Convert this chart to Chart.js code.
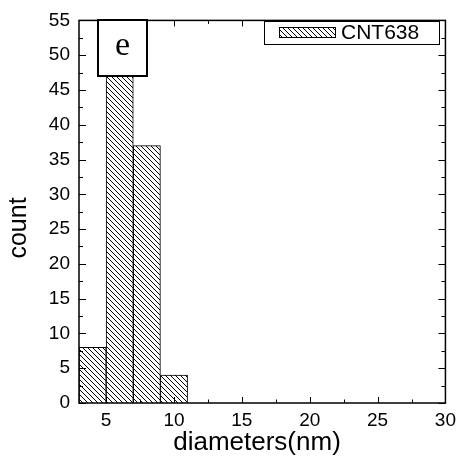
<!DOCTYPE html>
<html>
<head>
<meta charset="utf-8">
<script src="https://cdn.jsdelivr.net/npm/chart.js@4.4.0/dist/chart.umd.min.js"></script>
<style>
  html, body { margin: 0; padding: 0; background: #fff; }
  #wrap { width: 462px; height: 463px; position: relative; }
</style>
</head>
<body>
<div id="wrap"><canvas id="c" width="462" height="463"></canvas></div>
<script>
// ---- data ----
const binCenters = [4, 6, 8, 10];
const counts = [8, 47, 37, 4];
const seriesLabel = 'CNT638';
const xTickValues = [5, 10, 15, 20, 25, 30];
const yTickValues = [0, 5, 10, 15, 20, 25, 30, 35, 40, 45, 50, 55];
const xMinorValues = [7.5, 12.5, 17.5, 22.5, 27.5];
const yMinorValues = [2.5, 7.5, 12.5, 17.5, 22.5, 27.5, 32.5, 37.5, 42.5, 47.5, 52.5];
const panelLabel = 'e';
const xTitle = 'diameters(nm)';
const yTitle = 'count';

// ---- hatch pattern ----
function makeHatch() {
  const s = 5;
  const pc = document.createElement('canvas');
  pc.width = s; pc.height = s;
  const p = pc.getContext('2d');
  p.fillStyle = '#fff';
  p.fillRect(0, 0, s, s);
  p.strokeStyle = '#000';
  p.lineWidth = 1;
  p.beginPath();
  p.moveTo(0, 0); p.lineTo(s, s);
  p.moveTo(-1, s - 1); p.lineTo(1, s + 1);
  p.moveTo(s - 1, -1); p.lineTo(s + 1, 1);
  p.stroke();
  return document.getElementById('c').getContext('2d').createPattern(pc, 'repeat');
}
const hatch = makeHatch();

const FONT = "'Liberation Sans', Arial, sans-serif";

const decor = {
  id: 'decor',
  afterDatasetsDraw(chart) {
    const ctx = chart.ctx;
    const a = chart.chartArea;
    const xs = chart.scales.x, ys = chart.scales.y;
    ctx.save();
    // frame
    ctx.strokeStyle = '#000';
    ctx.lineWidth = 1.5;
    ctx.strokeRect(a.left, a.top, a.right - a.left, a.bottom - a.top);
    // ticks (inward, all four sides)
    ctx.lineWidth = 1;
    ctx.beginPath();
    const tickX = (v, len) => {
      const px = Math.round(xs.getPixelForValue(v)) + 0.5;
      ctx.moveTo(px, a.bottom); ctx.lineTo(px, a.bottom - len);
      ctx.moveTo(px, a.top); ctx.lineTo(px, a.top + len);
    };
    const tickY = (v, len) => {
      const py = Math.round(ys.getPixelForValue(v)) + 0.5;
      ctx.moveTo(a.left, py); ctx.lineTo(a.left + len, py);
      ctx.moveTo(a.right, py); ctx.lineTo(a.right - len, py);
    };
    xTickValues.forEach(v => tickX(v, 6));
    xMinorValues.forEach(v => tickX(v, 3.5));
    yTickValues.forEach(v => tickY(v, 7));
    yMinorValues.forEach(v => tickY(v, 4));
    ctx.stroke();

    // panel label box
    const bx = 98, by = 20, bw = 49, bh = 56;
    ctx.fillStyle = '#fff';
    ctx.fillRect(bx, by, bw, bh);
    ctx.lineWidth = 2;
    ctx.strokeRect(bx, by, bw, bh);
    ctx.fillStyle = '#000';
    ctx.font = "34px 'Liberation Serif', 'Times New Roman', serif";
    ctx.textAlign = 'center';
    ctx.textBaseline = 'middle';
    ctx.fillText(panelLabel, bx + bw / 2, by + bh / 2 - 2);

    // legend
    const lx = 264, ly = 21, lw = 175, lh = 23;
    ctx.fillStyle = '#fff';
    ctx.fillRect(lx, ly, lw, lh);
    ctx.lineWidth = 1;
    ctx.strokeRect(lx + 0.5, ly + 0.5, lw, lh);
    ctx.fillStyle = hatch;
    ctx.fillRect(279, 27, 56, 10);
    ctx.strokeRect(279.5, 27.5, 56, 10);
    ctx.fillStyle = '#000';
    ctx.font = "21px " + FONT;
    ctx.textAlign = 'left';
    ctx.textBaseline = 'middle';
    ctx.fillText(seriesLabel, 341, 33);

    // axis titles
    ctx.font = "26px " + FONT;
    ctx.textAlign = 'center';
    ctx.textBaseline = 'middle';
    ctx.fillText(xTitle, 257, 443);
    ctx.translate(19, 228);
    ctx.rotate(-Math.PI / 2);
    ctx.font = "25px " + FONT;
    ctx.fillText(yTitle, 0, 0);
    ctx.restore();
  }
};

new Chart(document.getElementById('c'), {
  type: 'bar',
  data: {
    datasets: [{
      label: seriesLabel,
      data: binCenters.map((x, i) => ({ x: x, y: counts[i] })),
      backgroundColor: hatch,
      borderColor: '#000',
      borderWidth: 1,
      barPercentage: 1,
      categoryPercentage: 1
    }]
  },
  options: {
    responsive: false,
    animation: false,
    layout: { padding: { left: 0, top: 14, right: 12, bottom: 0 } },
    plugins: { legend: { display: false }, tooltip: { enabled: false } },
    scales: {
      x: {
        type: 'linear',
        min: 3, max: 30,
        offset: false,
        grid: { display: false, drawTicks: false },
        border: { display: false },
        ticks: { color: '#000', font: { size: 19, family: FONT }, padding: 6, maxRotation: 0 },
        afterBuildTicks: s => { s.ticks = xTickValues.map(v => ({ value: v })); },
        afterFit: s => { s.height = 60; },
        title: { display: false }
      },
      y: {
        type: 'linear',
        min: 0, max: 55,
        grid: { display: false, drawTicks: false },
        border: { display: false },
        ticks: { color: '#000', font: { size: 19, family: FONT }, padding: 9 },
        afterBuildTicks: s => { s.ticks = yTickValues.map(v => ({ value: v })); },
        afterFit: s => { s.width = 79; },
        title: { display: false }
      }
    }
  },
  plugins: [decor]
});
</script>
</body>
</html>
